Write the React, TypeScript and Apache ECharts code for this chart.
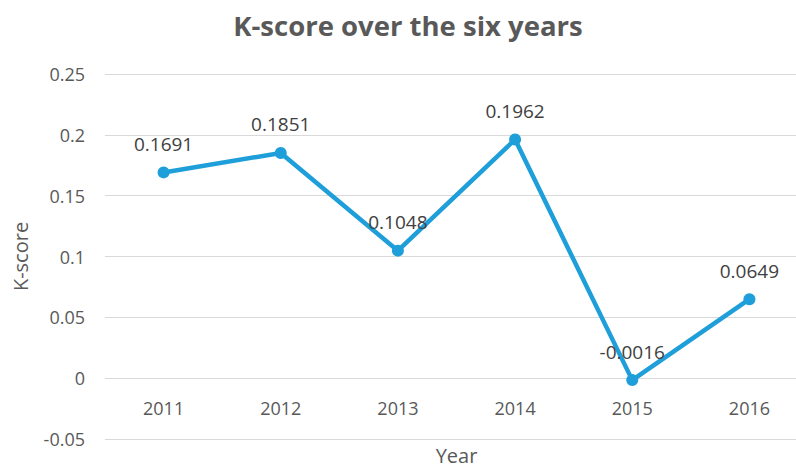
import React, { useEffect, useRef } from "react";
import * as echarts from "echarts";

const years = ["2011", "2012", "2013", "2014", "2015", "2016"];
const kScores = [0.1691, 0.1851, 0.1048, 0.1962, -0.0016, 0.0649];
const yMin = -0.05;
const yMax = 0.25;
const yStep = 0.05;

const FONT = "'Open Sans', 'Noto Sans', sans-serif";

export default function App() {
  const ref = useRef<HTMLDivElement>(null);
  useEffect(() => {
    if (!ref.current) return;
    const chart = echarts.init(ref.current, undefined, { renderer: "svg" });
    chart.setOption({
      animation: false,
      backgroundColor: "#ffffff",
      textStyle: { fontFamily: FONT },
      title: {
        text: "K-score over the six years",
        left: 403,
        textAlign: "center",
        top: 6,
        textStyle: { fontFamily: FONT, fontSize: 27.5, fontWeight: "bold", color: "#595959" },
      },
      grid: {
        left: 105,
        top: 74,
        bottom: 28,
        width: 703,
        containLabel: false,
        outerBoundsMode: "none",
      },
      xAxis: {
        type: "category",
        data: years,
        boundaryGap: true,
        name: "Year",
        nameLocation: "middle",
        nameGap: 6,
        nameTextStyle: { fontFamily: FONT, fontSize: 20, lineHeight: 20, color: "#595959" },
        axisLine: { show: false },
        axisTick: { show: false },
        axisLabel: { margin: -40, fontFamily: FONT, fontSize: 18, color: "#595959" },
        splitLine: { show: false },
      },
      yAxis: {
        type: "value",
        min: yMin,
        max: yMax,
        interval: yStep,
        name: "K-score",
        nameLocation: "middle",
        nameGap: 75,
        nameRotate: 90,
        nameTextStyle: { fontFamily: FONT, fontSize: 20, color: "#595959" },
        axisLine: { show: false },
        axisTick: { show: false },
        axisLabel: {
          margin: 20,
          fontFamily: FONT,
          fontSize: 18,
          color: "#595959",
          formatter: (v: number) => String(parseFloat(v.toFixed(4))),
        },
        splitLine: { show: true, lineStyle: { color: "#d9d9d9", width: 1 } },
      },
      series: [
        {
          type: "line",
          data: kScores,
          symbol: "circle",
          symbolSize: 12,
          itemStyle: { color: "#1f9fd9" },
          lineStyle: { color: "#1f9fd9", width: 4.5 },
          label: {
            show: true,
            position: "top",
            distance: 13,
            fontFamily: FONT,
            fontSize: 19,
            color: "#404040",
            formatter: (p: any) => String(p.value),
          },
        },
      ],
    });
    return () => chart.dispose();
  }, []);
  return <div ref={ref} style={{ width: 796, height: 467, position: "absolute", left: 0, top: 0 }} />;
}
